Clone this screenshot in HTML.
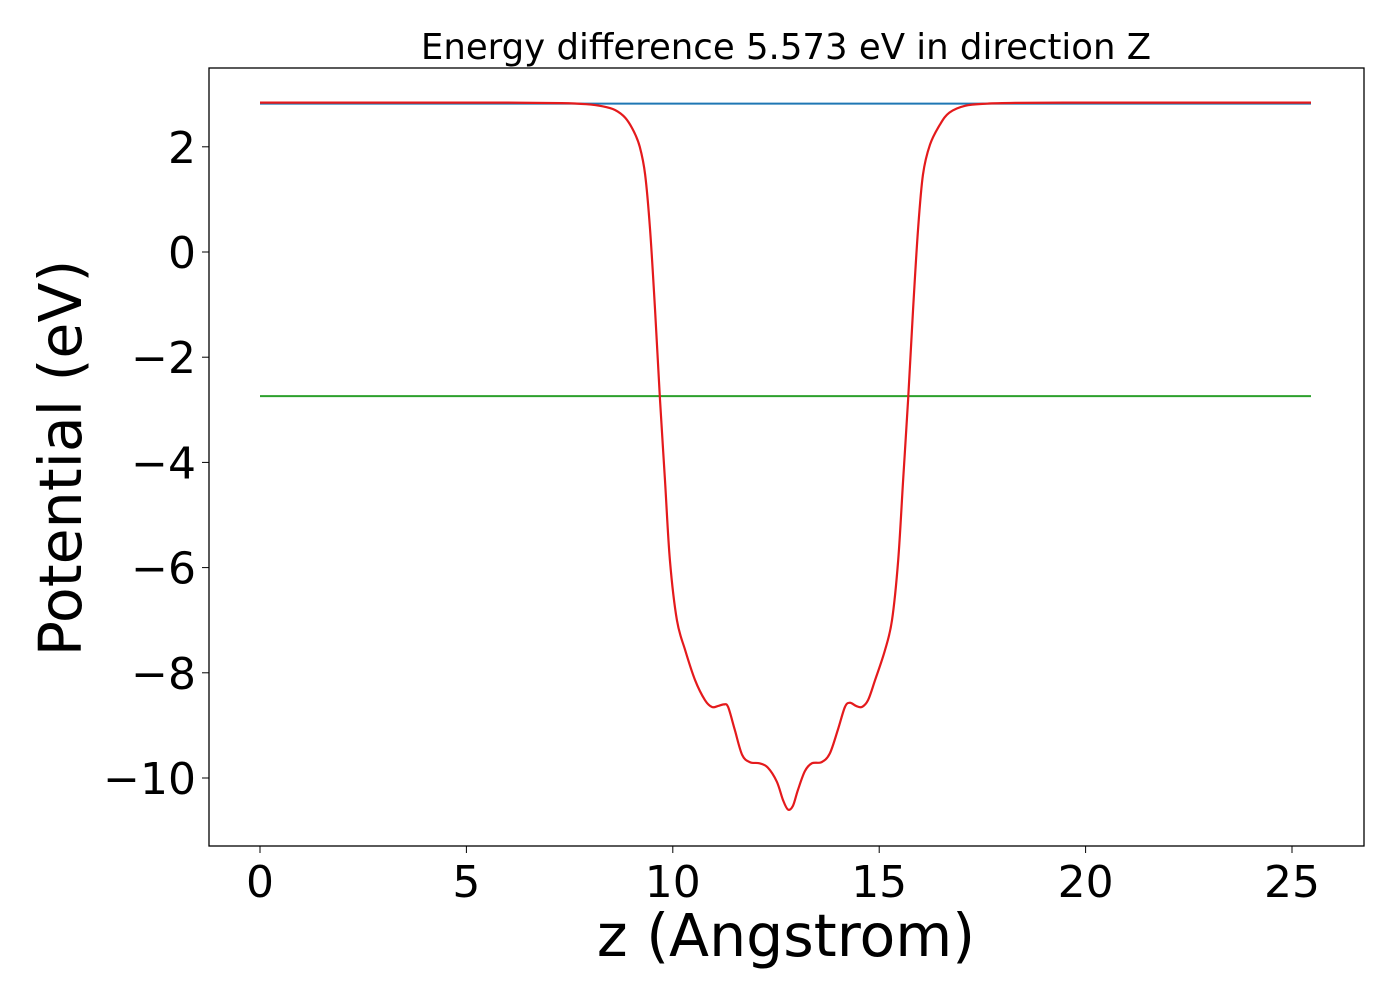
<!DOCTYPE html>
<html><head><meta charset="utf-8"><style>
body{margin:0;background:#fff;font-family:"DejaVu Sans","Liberation Sans",sans-serif}
</style></head><body>
<svg id="chart" width="1400" height="1000" xmlns="http://www.w3.org/2000/svg" font-family="DejaVu Sans, Liberation Sans, sans-serif">
<rect width="1400" height="1000" fill="#fff"/>
<text x="786" y="59" font-size="35.5" text-anchor="middle">Energy difference 5.573 eV in direction Z</text>
<g id="marks"></g>
<rect x="209" y="68" width="1155" height="778" fill="none" stroke="#000" stroke-width="1.3"/>
<g id="xt"></g><g id="yt"></g>
<text x="786" y="956" font-size="58.5" text-anchor="middle">z (Angstrom)</text>
<text transform="translate(81,458) rotate(-90)" font-size="58.5" text-anchor="middle">Potential (eV)</text>
</svg>
<script>
const xTicks=[0,5,10,15,20,25];
const yTicks=[2,0,-2,-4,-6,-8,-10];
const zRed=[0,2,4,6,7.3,7.9,8.3,8.6,8.85,9.05,9.2,9.33,9.45,9.57,9.69,9.81,9.93,10.1,10.3,10.54,10.78,10.95,11.1,11.24,11.34,11.5,11.68,11.87,12.1,12.3,12.52,12.67,12.79,12.91,13.03,13.2,13.37,13.6,13.8,14.0,14.17,14.29,14.44,14.58,14.73,14.9,15.14,15.31,15.46,15.58,15.7,15.82,15.94,16.06,16.23,16.47,16.7,17.08,17.6,18.3,19.5,21,23,25.46];
const vRed=[2.84,2.84,2.84,2.84,2.83,2.81,2.77,2.7,2.55,2.3,2.0,1.47,0.42,-1.1,-2.81,-4.33,-5.86,-7.0,-7.57,-8.14,-8.52,-8.65,-8.63,-8.6,-8.65,-9.08,-9.56,-9.7,-9.72,-9.8,-10.07,-10.42,-10.6,-10.53,-10.23,-9.87,-9.72,-9.7,-9.54,-9.08,-8.65,-8.57,-8.63,-8.65,-8.52,-8.14,-7.57,-7.0,-5.86,-4.33,-2.81,-1.1,0.42,1.47,2.04,2.42,2.65,2.78,2.82,2.835,2.84,2.84,2.84,2.84];
const blueLevel=[2.82];
const greenLevel=[-2.74];
const zRange=[0,25.46];
const X=z=>260+z*41.28;
const Y=v=>252-v*52.6;
const NS="http://www.w3.org/2000/svg";
const m=document.getElementById('marks');
function ln(x1,y1,x2,y2,c,n){const l=document.createElementNS(NS,'line');
l.setAttribute('x1',x1);l.setAttribute('y1',y1);l.setAttribute('x2',x2);l.setAttribute('y2',y2);
l.setAttribute('stroke',c);l.setAttribute('stroke-width',2);


m.appendChild(l);}
ln(X(zRange[0]),Y(blueLevel[0]),X(zRange[1]),Y(blueLevel[0]),'#1f77b4','blue-vacuum-level');
ln(X(zRange[0]),Y(greenLevel[0]),X(zRange[1]),Y(greenLevel[0]),'#2ca02c','green-level');
const pts=zRed.map((z,i)=>[X(z),Y(vRed[i])]);
let d='M'+pts[0][0]+','+pts[0][1];
for(let i=0;i<pts.length-1;i++){const p0=pts[Math.max(0,i-1)],p1=pts[i],p2=pts[i+1],p3=pts[Math.min(pts.length-1,i+2)];
d+=` C${p1[0]+(p2[0]-p0[0])/6},${p1[1]+(p2[1]-p0[1])/6} ${p2[0]-(p3[0]-p1[0])/6},${p2[1]-(p3[1]-p1[1])/6} ${p2[0]},${p2[1]}`;}
const p=document.createElementNS(NS,'path');p.setAttribute('d',d);p.setAttribute('fill','none');p.setAttribute('stroke','#e41a1c');p.setAttribute('stroke-width',2.2);


m.appendChild(p);
const xt=document.getElementById('xt'),yt=document.getElementById('yt');
xTicks.forEach(t=>{const x=X(t);const l=document.createElementNS(NS,'line');l.setAttribute('x1',x);l.setAttribute('x2',x);l.setAttribute('y1',846);l.setAttribute('y2',853);l.setAttribute('stroke','#000');xt.appendChild(l);
const tx=document.createElementNS(NS,'text');tx.setAttribute('x',x);tx.setAttribute('y',897);tx.setAttribute('font-size',44);tx.setAttribute('text-anchor','middle');tx.textContent=t;


xt.appendChild(tx);});
yTicks.forEach(t=>{const y=Y(t);const l=document.createElementNS(NS,'line');l.setAttribute('x1',202);l.setAttribute('x2',209);l.setAttribute('y1',y);l.setAttribute('y2',y);l.setAttribute('stroke','#000');yt.appendChild(l);
const tx=document.createElementNS(NS,'text');tx.setAttribute('x',196);tx.setAttribute('y',y+16);tx.setAttribute('font-size',44);tx.setAttribute('text-anchor','end');tx.textContent=t<0?'\u2212'+(-t):t;


yt.appendChild(tx);});
</script>
</body></html>
